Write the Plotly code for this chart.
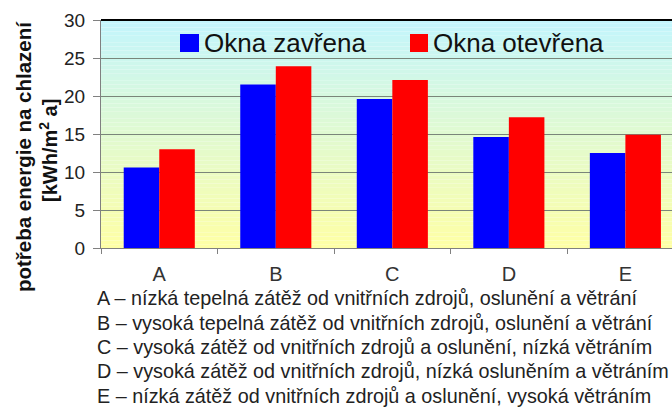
import plotly.graph_objects as go

categories = ["A", "B", "C", "D", "E"]
closed_vals = [10.6, 21.5, 19.6, 14.6, 12.5]
open_vals = [13.0, 23.9, 22.1, 17.2, 14.9]
series_names = ["Okna zavřena", "Okna otevřena"]
y_ticks = [0, 5, 10, 15, 20, 25, 30]
descriptions = [
    "A – nízká tepelná zátěž od vnitřních zdrojů, oslunění a větrání",
    "B – vysoká tepelná zátěž od vnitřních zdrojů, oslunění a větrání",
    "C – vysoká zátěž od vnitřních zdrojů a oslunění, nízká větráním",
    "D – vysoká zátěž od vnitřních zdrojů, nízká osluněním a větráním",
    "E – nízká zátěž od vnitřních zdrojů a oslunění, vysoká větráním",
]
y_title = "potřeba energie na chlazení"
y_unit = "[kWh/m<sup>2</sup> a]"

W, H = 672, 409
L, R, T, B = 101, 0, 20, 161
PW, PH = W - L - R, H - T - B

def px(x):
    return (x - L) / PW

def py(y):
    return (H - B - y) / PH

FONT = "Liberation Sans, Arial, sans-serif"

fig = go.Figure()
fig.add_trace(go.Bar(x=categories, y=closed_vals, name=series_names[0],
                     marker=dict(color="#0000ff", line=dict(width=0))))
fig.add_trace(go.Bar(x=categories, y=open_vals, name=series_names[1],
                     marker=dict(color="#ff0000", line=dict(width=0))))

shapes = []
# gradient background
top = (194, 245, 253)
bot = (255, 255, 165)
n = 60
for i in range(n):
    t = (i + 0.5) / n
    c = tuple(int(round(bot[k] + (top[k] - bot[k]) * t)) for k in range(3))
    shapes.append(dict(type="rect", xref="x domain", yref="y domain",
                       x0=0, x1=1, y0=i / n, y1=(i + 1) / n,
                       fillcolor="rgb(%d,%d,%d)" % c, line=dict(width=0),
                       layer="below"))
# top border
shapes.append(dict(type="line", xref="x domain", yref="y domain", x0=0, x1=1,
                   y0=1, y1=1, line=dict(color="#000000", width=2)))

annotations = []
# legend (manual)
leg = [(180, 199, "#0000ff", 202, series_names[0]), (410, 428, "#ff0000", 431, series_names[1])]
for x0, x1, col, tx, txt in leg:
    shapes.append(dict(type="rect", xref="paper", yref="paper",
                       x0=px(x0), x1=px(x1), y0=py(52), y1=py(34),
                       fillcolor=col, line=dict(width=0)))
    annotations.append(dict(text=txt, xref="paper", yref="paper", x=px(tx), y=py(43),
                            xanchor="left", yanchor="middle", showarrow=False,
                            font=dict(family=FONT, size=26, color="#111111")))
# y axis title
annotations.append(dict(text="<b>%s</b>" % y_title, xref="paper", yref="paper",
                        x=px(23), y=py(157), textangle=-90, showarrow=False,
                        xanchor="center", yanchor="middle",
                        font=dict(family=FONT, size=20.5, color="#111111")))
annotations.append(dict(text="<b>%s</b>" % y_unit, xref="paper", yref="paper",
                        x=px(48), y=py(151), textangle=-90, showarrow=False,
                        xanchor="center", yanchor="middle",
                        font=dict(family=FONT, size=20, color="#111111")))
# descriptions
desc_y = [298, 322.5, 347, 371.5, 395.5]
for txt, yy in zip(descriptions, desc_y):
    annotations.append(dict(text=txt, xref="paper", yref="paper", x=px(95), y=py(yy),
                            xanchor="left", yanchor="middle", showarrow=False,
                            font=dict(family=FONT, size=19.8, color="#222222")))

fig.update_layout(
    width=W, height=H,
    margin=dict(l=L, r=R, t=T, b=B, pad=0),
    paper_bgcolor="#ffffff",
    plot_bgcolor="rgba(0,0,0,0)",
    barmode="group", bargap=0.39, bargroupgap=0,
    showlegend=False,
    shapes=shapes, annotations=annotations,
    font=dict(family=FONT, color="#222222"),
    xaxis=dict(range=[-0.5, 4.4], showgrid=False, showline=True, linecolor="#808080",
               linewidth=1, ticks="outside", tickson="boundaries", ticklen=5,
               tickcolor="#808080", tickfont=dict(size=20, color="#333333"),
               ticklabelstandoff=8, fixedrange=True),
    yaxis=dict(range=[0, 30], tickvals=y_ticks, showgrid=True, gridcolor="#7a857a",
               gridwidth=1, showline=True, linecolor="#808080", linewidth=1,
               ticks="outside", ticklen=7, tickcolor="#808080", ticklabelstandoff=4,
               tickfont=dict(size=19, color="#222222"), zeroline=False, fixedrange=True),
)

fig.write_html("out.html", config={"displayModeBar": False},
               post_script="document.body.style.margin='0';document.body.style.overflow='hidden';")
